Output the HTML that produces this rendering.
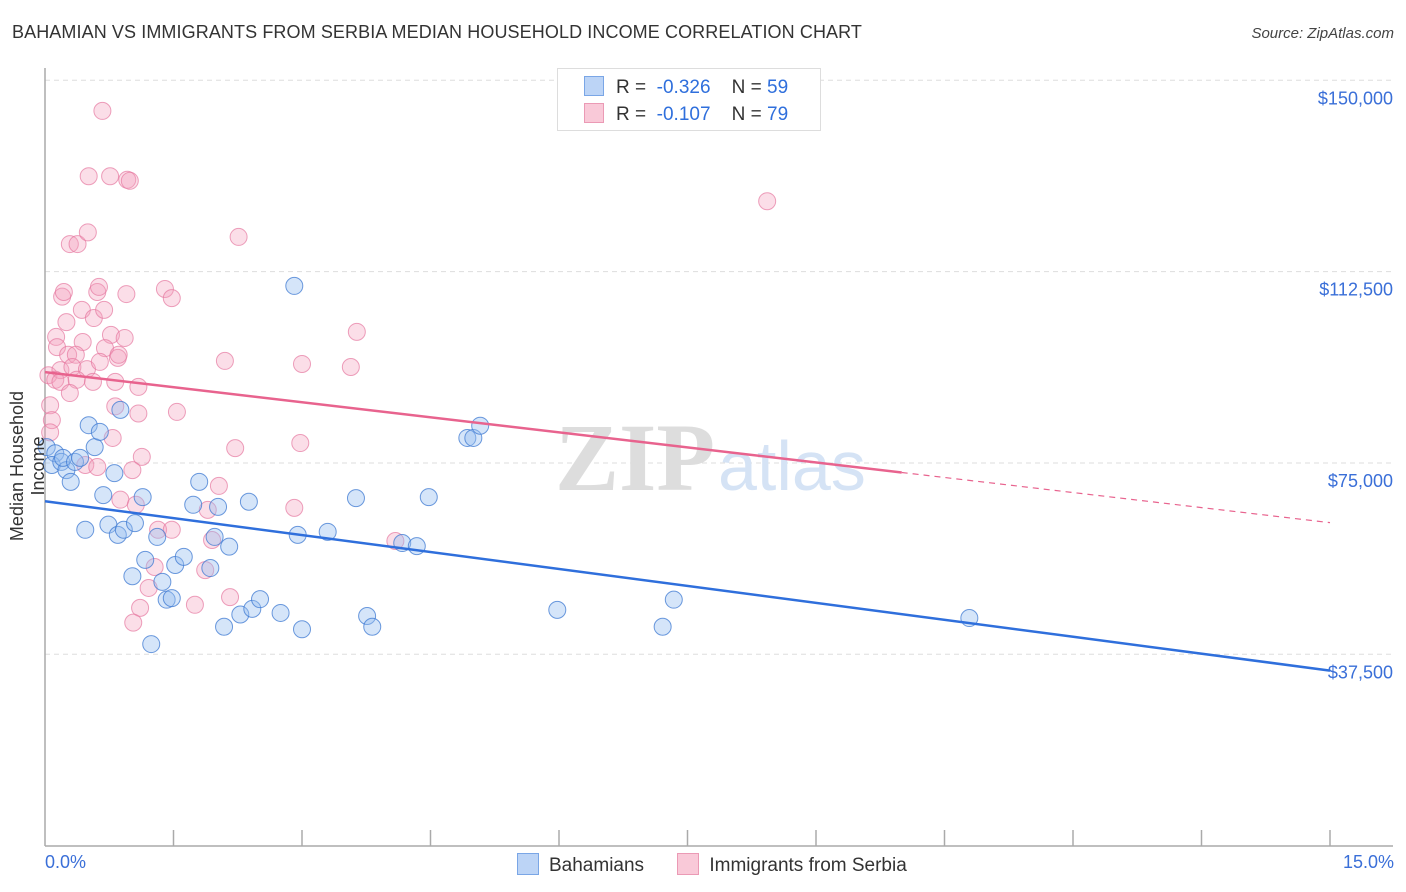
<!DOCTYPE html>
<html><head><meta charset="utf-8"><style>
body{margin:0;background:#fff;font-family:"Liberation Sans",sans-serif;}
#wrap{position:relative;width:1406px;height:892px;overflow:hidden;}
</style></head><body>
<div id="wrap">
<div style="position:absolute;left:12px;top:22px;font-size:18px;color:#333;letter-spacing:0.1px">BAHAMIAN VS IMMIGRANTS FROM SERBIA MEDIAN HOUSEHOLD INCOME CORRELATION CHART</div>
<div style="position:absolute;right:12px;top:25px;font-size:15px;color:#444;font-style:italic">Source: ZipAtlas.com</div>
<svg id="chart" width="1406" height="892" style="position:absolute;left:0;top:0"></svg>
</div>
<script>
const bahX=[0.02,0.12,0.08,0.19,0.25,0.30,0.21,0.35,0.41,0.58,0.51,0.64,0.68,0.47,0.74,0.81,0.85,0.92,1.05,1.14,1.02,1.17,1.31,1.37,1.42,1.48,1.52,1.62,1.73,1.80,1.93,1.98,2.02,2.09,2.15,2.28,2.38,2.42,2.51,2.75,2.91,2.95,3.00,3.30,3.63,3.76,3.82,4.17,4.34,4.48,4.93,5.00,5.08,5.98,7.21,7.34,10.79,1.24,0.88];
const bahY=[78100,76900,74600,75200,73600,71300,76000,75200,76000,78100,82400,81100,68700,61900,62900,73000,60900,61900,63200,68300,52800,56000,60500,51700,48200,48500,55000,56600,66800,71300,54400,60500,66400,42900,58600,45300,67400,46400,48300,45600,109700,60900,42400,61500,68100,45000,42900,59300,58700,68300,79900,79900,82300,46200,42900,48200,44600,39500,85400];
const serX=[0.67,0.51,0.76,0.96,0.99,0.29,0.38,0.50,2.26,8.43,0.20,0.22,0.61,0.63,0.95,1.40,1.48,0.25,0.43,0.57,0.69,0.13,0.77,0.93,3.64,0.14,0.44,0.27,0.36,0.70,0.85,0.86,2.10,3.00,3.57,0.04,0.18,0.32,0.49,0.64,0.12,0.18,0.37,0.56,0.82,0.29,1.09,0.06,0.08,0.82,1.09,1.54,0.79,2.98,0.06,2.22,1.13,0.47,0.61,1.02,2.03,0.88,1.06,1.90,2.91,1.32,1.48,1.95,4.09,1.28,1.87,1.21,2.16,1.75,1.11,1.03];
const serY=[144000,131200,131200,130500,130300,117900,117900,120200,119300,126300,107600,108500,108500,109500,108100,109100,107300,102600,105000,103400,105000,99700,100100,99500,100700,97700,98700,96200,96200,97500,95600,96200,95000,94400,93800,92200,93200,93800,93400,94800,91300,90900,91300,90900,90900,88700,89900,86300,83400,86100,84700,85000,79900,78900,81000,77900,76200,74600,74200,73600,70500,67800,66800,65800,66200,61900,61900,59900,59700,54600,54000,50500,48700,47200,46600,43700];
const yTicks=[150000,112500,75000,37500];
const yTickLabels=["$150,000","$112,500","$75,000","$37,500"];
const bahTrend=[67500,34300];
const serTrend=[92800,63300];
const serSolidEnd=10;
const NS="http://www.w3.org/2000/svg";
const svg=document.getElementById('chart');
const X=p=>45+p/15*1285;
const Y=v=>845.6-v/196;
function el(t,a,parent){const e=document.createElementNS(NS,t);for(const k in a)e.setAttribute(k,a[k]);(parent||svg).appendChild(e);return e;}
// grid
yTicks.forEach((v,i)=>{
 const g=el('line',{x1:45,x2:1393,y1:Y(v),y2:Y(v),stroke:'#ddd','stroke-dasharray':'5,4','stroke-width':1});
 
 
 const t=el('text',{x:1393,y:Y(v)+24,'text-anchor':'end','font-size':18,fill:'#3a6fd8','font-family':'Liberation Sans, sans-serif'});
 t.textContent=yTickLabels[i];
 
 
});
// axes
const ya=el('line',{x1:45,x2:45,y1:68,y2:846,stroke:'#aaa','stroke-width':1.5});


const xa=el('line',{x1:45,x2:1393,y1:846,y2:846,stroke:'#aaa','stroke-width':1.5});


for(let i=1;i<=10;i++){const tk=el('line',{x1:X(i*1.5),x2:X(i*1.5),y1:830,y2:846,stroke:'#aaa','stroke-width':1.5});
 
 }
// watermark
const wm=el('text',{x:555,y:490,'font-size':96,fill:'#ddd','font-family':'Liberation Serif, serif','font-weight':'bold'});
wm.textContent='ZIP';


const wm2=el('text',{x:718,y:490,'font-size':70,fill:'#d5e3f5','font-family':'Liberation Sans, sans-serif'});
wm2.textContent='atlas';


// points
serX.forEach((x,i)=>{const c=el('circle',{cx:X(x),cy:Y(serY[i]),r:8.5,fill:'rgba(244,160,190,0.35)',stroke:'rgba(230,120,160,0.7)','stroke-width':1});
 
 });
bahX.forEach((x,i)=>{const c=el('circle',{cx:X(x),cy:Y(bahY[i]),r:8.5,fill:'rgba(150,190,240,0.4)',stroke:'rgba(60,120,210,0.75)','stroke-width':1});
 
 });
// trends
const bt=el('line',{x1:X(0),y1:Y(bahTrend[0]),x2:X(15),y2:Y(bahTrend[1]),stroke:'#2f6fdc','stroke-width':2.5});


const sMid=serTrend[0]+(serTrend[1]-serTrend[0])*serSolidEnd/15;
const st=el('line',{x1:X(0),y1:Y(serTrend[0]),x2:X(serSolidEnd),y2:Y(sMid),stroke:'#e8638e','stroke-width':2.5});


const sd=el('line',{x1:X(serSolidEnd),y1:Y(sMid),x2:X(15),y2:Y(serTrend[1]),stroke:'#e8638e','stroke-width':1.2,'stroke-dasharray':'6,5'});


</script>
<div style="position:absolute;left:-62px;top:445px;width:180px;text-align:center;transform:rotate(-90deg);font-size:18px;color:#333">Median Household Income</div>
<div style="position:absolute;left:45px;top:852px;font-size:18px;color:#3a6fd8">0.0%</div>
<div style="position:absolute;right:12px;top:852px;font-size:18px;color:#3a6fd8">15.0%</div>
<div style="position:absolute;left:557px;top:68px;width:262px;height:61px;border:1px solid #ddd;background:#fff;font-size:19px;color:#333">
 <div style="position:absolute;left:26px;top:7px"><span style="display:inline-block;width:18px;height:18px;background:#bcd4f6;border:1px solid #7aa6e6;vertical-align:-3px;margin-right:12px"></span>R = &nbsp;<span style="color:#2f6fdc">-0.326</span>&nbsp;&nbsp;&nbsp; N = <span style="color:#2f6fdc">59</span></div>
 <div style="position:absolute;left:26px;top:34px"><span style="display:inline-block;width:18px;height:18px;background:#f9c9d8;border:1px solid #eb9ab5;vertical-align:-3px;margin-right:12px"></span>R = &nbsp;<span style="color:#2f6fdc">-0.107</span>&nbsp;&nbsp;&nbsp; N = <span style="color:#2f6fdc">79</span></div>
</div>
<div style="position:absolute;left:517px;top:853px;font-size:19px;color:#333;white-space:nowrap">
 <span><span style="display:inline-block;width:20px;height:20px;background:#bcd4f6;border:1px solid #7aa6e6;vertical-align:-4px;margin-right:10px"></span>Bahamians</span>
 <span style="margin-left:28px"><span style="display:inline-block;width:20px;height:20px;background:#f9c9d8;border:1px solid #eb9ab5;vertical-align:-4px;margin-right:10px"></span>Immigrants from Serbia</span>
</div>
</body></html>
